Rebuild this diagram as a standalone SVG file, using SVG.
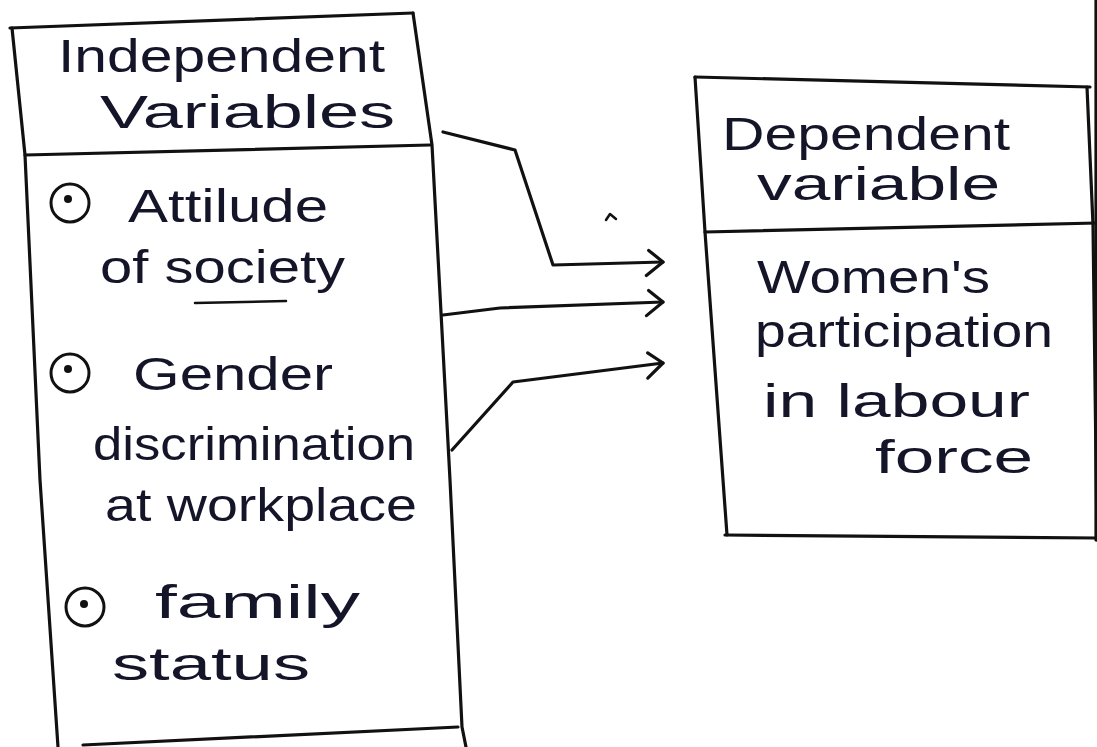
<svg xmlns="http://www.w3.org/2000/svg" width="1097" height="747" viewBox="0 0 1097 747">
<style>
.ln{fill:none;stroke:#111;stroke-width:3.2;stroke-linecap:round;stroke-linejoin:round}
.tx{font-family:"Liberation Sans",Arial,sans-serif;font-size:46px;fill:#15152a}
.bul{fill:none;stroke:#111;stroke-width:3}
.dot{fill:#111}
</style>
<defs>
<marker id="chev" markerUnits="userSpaceOnUse" markerWidth="40" markerHeight="40" viewBox="-20 -20 40 40" refX="0" refY="0" orient="auto">
<path d="M-14,-12 L0,0 L-17,13" fill="none" stroke="#111" stroke-width="3.2" stroke-linecap="round" stroke-linejoin="round"/>
</marker>
</defs>
<rect width="1097" height="747" fill="#ffffff"/>
<g id="independent">
<path class="ln" d="M10,28 L413,13"/>
<path class="ln" d="M413,13 L432,145 L450,480 L462,727 L466,747"/>
<path class="ln" d="M12,28 L25,155 L40,480 L58,747"/>
<path class="ln" d="M25,155 L430,145"/>
<path class="ln" d="M83,745 L458,727"/>
<text class="tx" x="58" y="72" textLength="327" lengthAdjust="spacingAndGlyphs">Independent</text>
<text class="tx" x="100" y="128" textLength="295" lengthAdjust="spacingAndGlyphs">Variables</text>
<circle class="bul" cx="70" cy="203" r="19"/><circle class="dot" cx="68" cy="199" r="4"/>
<text class="tx" x="128" y="222" textLength="200" lengthAdjust="spacingAndGlyphs">Attilude</text>
<text class="tx" x="100" y="283" textLength="245" lengthAdjust="spacingAndGlyphs">of society</text>
<path class="ln" d="M195,303 L286,301" style="stroke-width:2.5"/>
<circle class="bul" cx="70" cy="373" r="19"/><circle class="dot" cx="68" cy="369" r="4"/>
<text class="tx" x="133" y="390" textLength="200" lengthAdjust="spacingAndGlyphs">Gender</text>
<text class="tx" x="93" y="460" textLength="322" lengthAdjust="spacingAndGlyphs">discrimination</text>
<text class="tx" x="105" y="521" textLength="312" lengthAdjust="spacingAndGlyphs">at workplace</text>
<circle class="bul" cx="85" cy="607" r="19"/><circle class="dot" cx="84" cy="604" r="4"/>
<text class="tx" x="155" y="618" textLength="205" lengthAdjust="spacingAndGlyphs">family</text>
<text class="tx" x="112" y="680" textLength="198" lengthAdjust="spacingAndGlyphs">status</text>
</g>
<g id="dependent">
<path class="ln" d="M695,77 L1090,87"/>
<path class="ln" d="M695,77 L705,232 L727,535"/>
<path class="ln" d="M1087,87 L1093,225 L1097,540"/>
<path class="ln" d="M705,232 L1097,223"/>
<path class="ln" d="M725,535 L1097,538"/>
<text class="tx" x="722" y="150" textLength="288" lengthAdjust="spacingAndGlyphs">Dependent</text>
<text class="tx" x="757" y="200" textLength="243" lengthAdjust="spacingAndGlyphs">variable</text>
<text class="tx" x="757" y="293" textLength="233" lengthAdjust="spacingAndGlyphs">Women's</text>
<text class="tx" x="755" y="347" textLength="298" lengthAdjust="spacingAndGlyphs">participation</text>
<text class="tx" x="763" y="417" textLength="267" lengthAdjust="spacingAndGlyphs">in   labour</text>
<text class="tx" x="875" y="473" textLength="158" lengthAdjust="spacingAndGlyphs">force</text>
</g>
<g id="connectors">
<path class="ln" d="M443,132 L515,150 L553,265 L663,262" marker-end="url(#chev)"/>
<path class="ln" d="M443,315 L500,308 L663,302" marker-end="url(#chev)"/>
<path class="ln" d="M452,450 L513,382 L663,363" marker-end="url(#chev)"/>
</g>
<g id="marks">
<path class="ln" d="M606,220 L610,214 L616,219" style="stroke-width:2.5"/>
<path class="ln" d="M1096,0 L1096,540"/>
</g>
</svg>
